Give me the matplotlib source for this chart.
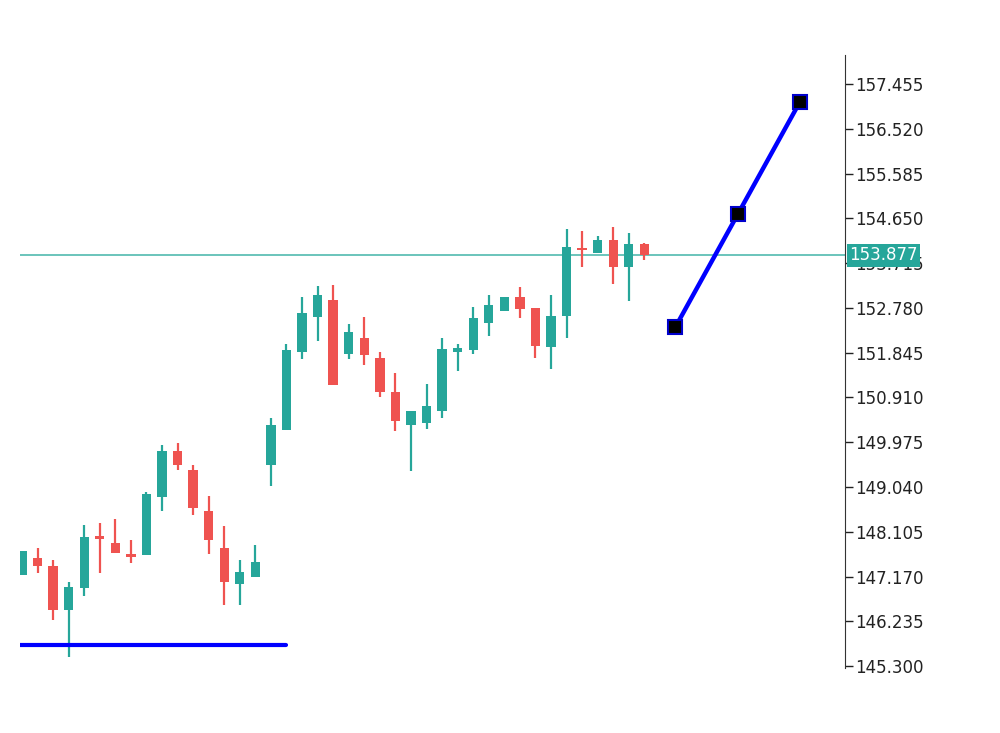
import matplotlib
matplotlib.use("Agg")
import matplotlib.pyplot as plt
import numpy as np

opens  = [147.21,147.56,147.39,146.48,146.94,148.02,147.87,147.64,147.62,148.83,149.80,149.39,148.54,147.77,147.02,147.16,
          149.49,150.22,151.86,152.59,152.94,151.82,152.15,151.74,151.03,150.34,150.37,150.62,151.86,151.90,152.47,152.72,
          153.01,152.78,151.97,152.61,154.02,153.92,154.19,153.63,154.11]
closes = [147.70,147.39,146.48,146.96,148.00,147.95,147.66,147.58,148.89,149.80,149.49,148.60,147.93,147.06,147.27,147.48,
          150.34,151.90,152.67,153.05,151.16,152.28,151.80,151.03,150.41,150.62,150.72,151.92,151.95,152.57,152.84,153.01,
          152.76,151.99,152.61,154.05,153.98,154.19,153.63,154.11,153.88]
highs  = [147.70,147.77,147.52,147.06,148.25,148.29,148.37,147.93,148.93,149.91,149.95,149.49,148.85,148.22,147.52,147.83,
          150.47,152.03,153.01,153.23,153.26,152.44,152.59,151.86,151.41,150.62,151.20,152.15,152.03,152.80,153.05,153.01,
          153.21,152.78,153.05,154.42,154.38,154.27,154.46,154.34,154.13]
lows   = [147.21,147.25,146.27,145.48,146.77,147.25,147.66,147.46,148.80,148.54,149.39,148.45,147.64,146.58,146.58,147.16,
          149.06,150.22,151.72,152.09,151.16,151.72,151.59,150.91,150.20,149.37,150.26,150.47,151.47,151.82,152.20,152.72,
          152.57,151.74,151.51,152.15,153.63,153.92,153.28,152.92,153.78]

trend_x = [42, 46, 50]
trend_y = [152.38, 154.73, 157.08]
support_level = 145.75
support_x = [-0.13, 17.0]
current_price = 153.877
ytick_vals = [145.300 + 0.935 * k for k in range(14)]

GREEN = "#26a69a"
RED = "#ef5350"

fig = plt.figure(figsize=(10, 7.33), dpi=100)
ax = fig.add_axes([0.02, 0.0887, 0.825, 0.8363])

for i, (o, c, h, l) in enumerate(zip(opens, closes, highs, lows)):
    col = GREEN if c >= o else RED
    ax.vlines(i, l, h, color=col, lw=1.6, zorder=2)
    bot = min(o, c)
    hgt = max(abs(c - o), 0.03)
    ax.bar(i, hgt, bottom=bot, width=0.6, color=col, zorder=3, linewidth=0)

ax.axhline(current_price, color="#5fbfb5", lw=1.3, zorder=1)
ax.plot(support_x, [support_level] * 2, color="#0000ff", lw=3, zorder=4, solid_capstyle="round")
ax.plot(trend_x, trend_y, color="#0000ff", lw=3.2, zorder=4)
ax.plot(trend_x, trend_y, ls="none", marker="s", ms=10, mfc="black", mec="#0000cc", mew=1.5, zorder=5)

ax.set_xlim(-0.13, 52.9)
ax.set_ylim(145.26, 158.06)
ax.set_xticks([])
ax.set_yticks(ytick_vals)
ax.set_yticklabels([f"{v:.3f}" for v in ytick_vals])
for s in ["top", "left", "bottom"]:
    ax.spines[s].set_visible(False)
ax.spines["right"].set_color("#333333")
ax.yaxis.tick_right()
ax.tick_params(axis="y", direction="out", length=6, width=1, labelsize=12, colors="#222222", pad=1)

ax.text(1.005, current_price, f"{current_price:.3f}", transform=ax.get_yaxis_transform(),
        ha="left", va="center", fontsize=12, color="white",
        bbox=dict(boxstyle="square,pad=0.15", fc=GREEN, ec="none"), zorder=10, clip_on=False)

fig.savefig("out.png", dpi=100)
